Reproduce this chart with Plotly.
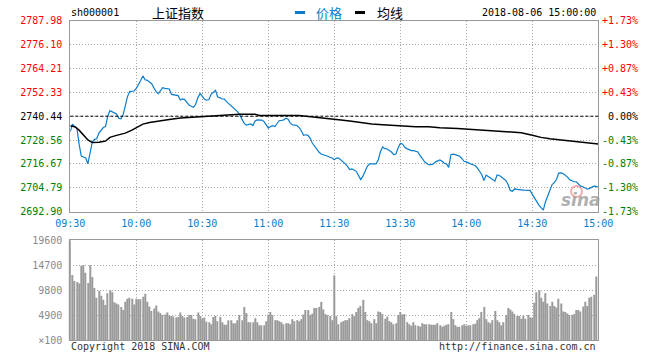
import plotly.graph_objects as go
import pandas as pd

# ---------------- data ----------------
prev_close = 2740.44
price_ticks = [2787.98, 2776.10, 2764.21, 2752.33, 2740.44, 2728.56, 2716.67, 2704.79, 2692.90]
pct_labels = ["+1.73%", "+1.30%", "+0.87%", "+0.43%", "0.00%", "-0.43%", "-0.87%", "-1.30%", "-1.73%"]
vol_ticks = [0, 4900, 9800, 14700, 19600]
vol_tick_labels = ["\u00d7100", "4900", "9800", "14700", "19600"]
time_ticks = ["09:30", "10:00", "10:30", "11:00", "11:30", "13:30", "14:00", "14:30", "15:00"]

am = pd.date_range("2018-08-06 09:30", "2018-08-06 11:30", freq="min").strftime("%H:%M").tolist()
pm = pd.date_range("2018-08-06 13:01", "2018-08-06 15:00", freq="min").strftime("%H:%M").tolist()
times = am + pm

price = [
    2732.8, 2736.5, 2735.3, 2734.5, 2726.5, 2720.6, 2720.1, 2719.6, 2716.8, 2723.3,
    2727.6, 2728.9, 2729.2, 2732.0, 2733.7, 2734.8, 2735.3, 2740.3, 2743.2, 2742.7,
    2742.4, 2741.6, 2739.4, 2739.1, 2741.1, 2745.2, 2750.2, 2752.7, 2753.0, 2753.0,
    2754.3, 2756.0, 2758.2, 2760.5, 2758.6, 2758.3, 2757.3, 2756.6, 2754.6, 2752.7,
    2751.7, 2753.0, 2754.6, 2754.3, 2754.0, 2754.0, 2751.3, 2751.0, 2751.0, 2750.7,
    2748.5, 2749.0, 2748.7, 2747.4, 2746.0, 2745.4, 2744.9, 2746.4, 2749.7, 2751.8,
    2750.5, 2748.9, 2748.4, 2748.7, 2751.3, 2752.3, 2753.3, 2750.0, 2749.7, 2749.0,
    2749.0, 2747.7, 2746.7, 2745.7, 2744.7, 2744.1, 2742.7, 2741.1, 2738.6, 2737.0,
    2736.0, 2736.5, 2736.6, 2735.8, 2738.1, 2738.6, 2738.6, 2738.5, 2737.8, 2735.8,
    2734.5, 2735.3, 2735.7, 2735.3, 2737.0, 2738.3, 2738.3, 2738.6, 2739.4, 2738.9,
    2737.0, 2736.1, 2736.0, 2735.8, 2734.8, 2733.2, 2730.9, 2731.2, 2730.9, 2729.5,
    2727.1, 2725.4, 2724.3, 2722.6, 2721.6, 2721.3, 2720.8, 2720.5, 2720.0, 2719.6,
    2718.8, 2719.6, 2719.6, 2718.7, 2717.5, 2716.7, 2715.5, 2713.9, 2714.2, 2713.7,
    2713.0, 2710.9, 2708.9, 2710.6, 2713.0, 2715.5, 2716.7, 2716.7, 2716.7, 2716.7,
    2718.8, 2722.9, 2725.1, 2724.3, 2724.1, 2723.3, 2722.6, 2721.3, 2721.6, 2724.6,
    2726.9, 2726.6, 2725.0, 2724.3, 2723.8, 2723.3, 2723.3, 2722.9, 2722.6, 2720.8,
    2719.2, 2717.8, 2716.9, 2716.3, 2716.3, 2716.7, 2717.7, 2718.2, 2718.7, 2718.0,
    2717.0, 2716.7, 2715.0, 2721.3, 2721.6, 2721.3, 2721.0, 2720.5, 2719.3, 2718.0,
    2717.7, 2717.0, 2716.7, 2716.3, 2715.9, 2714.7, 2713.0, 2711.4, 2708.4, 2711.1,
    2710.4, 2709.7, 2709.2, 2708.1, 2711.2, 2710.9, 2710.2, 2709.4, 2708.4, 2706.4,
    2703.5, 2703.1, 2704.3, 2704.0, 2704.0, 2703.8, 2703.6, 2703.5, 2703.5, 2703.5,
    2701.5, 2699.5, 2697.9, 2696.2, 2694.9, 2693.7, 2697.9, 2700.7, 2703.5, 2706.4,
    2707.4, 2708.9, 2712.1, 2712.2, 2711.9, 2711.2, 2710.1, 2708.8, 2708.1, 2707.8,
    2707.8, 2706.8, 2705.6, 2705.3, 2704.8, 2704.1, 2704.5, 2705.1, 2705.6, 2705.5,
    2705.1,
]

avg_time = ["09:30", "09:32", "09:34", "09:36", "09:38", "09:40", "09:43", "09:46", "09:48", "09:51",
            "09:55", "09:58", "10:01", "10:03", "10:06", "10:10", "10:15", "10:20", "10:25", "10:30",
            "10:35", "10:40", "10:47", "10:54", "10:56", "11:14", "11:18", "11:22", "11:26", "11:29",
            "13:03", "13:07", "13:10", "13:13", "13:17", "13:22", "13:30", "13:37", "13:43", "13:48",
            "13:56", "14:04", "14:11", "14:18", "14:25", "14:30", "14:34", "14:38", "14:42", "14:48",
            "14:53", "14:58", "15:00"]
avg_price = [2735.7, 2735.2, 2733.5, 2730.9, 2728.6, 2727.3, 2727.5, 2728.1, 2729.9, 2730.9,
             2732.0, 2733.5, 2735.2, 2736.5, 2737.3, 2738.1, 2738.8, 2739.6, 2739.9, 2740.3,
             2740.8, 2741.1, 2741.4, 2741.4, 2740.8, 2740.8, 2740.4, 2739.9, 2739.6, 2739.1,
             2738.6, 2738.1, 2737.6, 2737.1, 2736.6, 2736.2, 2735.6, 2735.2, 2735.2, 2734.7,
             2734.3, 2733.8, 2733.3, 2732.9, 2732.2, 2731.0, 2729.9, 2729.2, 2728.7, 2728.1,
             2727.6, 2726.9, 2726.6]

volume = [
    12800, 11600, 11400, 11100, 14600, 14700, 13200, 11200, 14700, 12400,
    10200, 8300, 9700, 8700, 7900, 6900, 9200, 9800, 9400, 7400,
    7200, 7000, 6500, 5900, 7500, 8100, 8300, 8100, 7000, 8100,
    8000, 8000, 8500, 9100, 7500, 6600, 5700, 6200, 6800, 5600,
    5300, 4900, 5000, 5400, 4800, 4700, 4600, 4400, 4500, 5400,
    4700, 4400, 4500, 4900, 4900, 4200, 4100, 5400, 4700, 4200,
    4400, 3600, 3500, 3100, 4500, 4700, 3700, 4500, 3500, 3000,
    3000, 3900, 3900, 3300, 3300, 3900, 4900, 3900, 6500, 5300,
    3500, 3500, 3500, 4300, 3500, 2900, 2900, 2900, 3700, 5000,
    5500, 4900, 3900, 3900, 3700, 3500, 3100, 3300, 3300, 3100,
    4100, 3700, 3900, 3700, 4100, 5000, 5900, 5900, 4900, 5200,
    6300, 6300, 6500, 7500, 6000, 5100, 4900, 4700, 3900, 12700,
    4700, 3100, 3500, 3700, 3900, 3900, 4300, 5100, 4700, 5500,
    6300, 6700, 7900, 5500, 3900, 3700, 3300, 4100, 3300, 5600,
    5500, 5100, 4200, 4600, 3700, 3500, 3100, 3300, 4900, 5500,
    5000, 5100, 3500, 3100, 2800, 3500, 2900, 2800, 2600, 3300,
    3100, 3100, 3100, 3000, 3000, 3000, 3300, 2900, 2600, 2800,
    3000, 3100, 5500, 4100, 2900, 2600, 2600, 2900, 3100, 2800,
    2900, 2900, 3100, 3200, 3900, 4300, 5500, 6500, 4100, 3500,
    3300, 3900, 5700, 3900, 3500, 2900, 3500, 4900, 6300, 6000,
    5600, 5100, 4700, 4700, 4200, 4700, 4200, 4900, 4400, 4400,
    7300, 9400, 9800, 8300, 7500, 9200, 7200, 6700, 7500, 6700,
    6400, 8100, 7200, 5600, 5500, 5200, 4900, 4900, 5100, 5900,
    5900, 5600, 6600, 7500, 6700, 8300, 8500, 8900, 12500,
]
vol_time = times[1:1 + len(volume)]

# ---------------- styling ----------------
W, H = 660, 360
X0, X1 = 70.3, 598.3
P_TOP, P_BOT = 20.7, 211.7
V_TOP, V_BOT = 240.3, 340.0
MONO = "DejaVu Sans Mono"
CJK = "Noto Sans CJK SC"
BLUE = "#0a7ccc"
GRID = "#a8a8a8"
FRAME = "#999999"
RED, GREEN = "#ff0000", "#008000"


def px(x):
    return x / W


def py(y):
    return 1 - y / H


def colour(v):
    if abs(v - prev_close) < 0.005:
        return "#000000"
    return RED if v > prev_close else GREEN


left_text = ['<span style="color:%s">%.2f</span>' % (colour(v), v) for v in price_ticks]

fig = go.Figure()
fig.add_trace(go.Scatter(x=times, y=price, mode="lines", line=dict(color=BLUE, width=1.2),
                         xaxis="x", yaxis="y", hoverinfo="skip"))
fig.add_trace(go.Scatter(x=avg_time, y=avg_price, mode="lines", line=dict(color="#000000", width=1.5),
                         xaxis="x", yaxis="y", hoverinfo="skip"))
fig.add_trace(go.Bar(x=vol_time, y=volume, marker=dict(color="#9a9a9a", line=dict(width=0)),
                     width=0.42, xaxis="x2", yaxis="y3", hoverinfo="skip"))

xcommon = dict(type="category", categoryorder="array", categoryarray=times, range=[0, len(times) - 1],
               domain=[px(X0), px(X1)], showgrid=True, gridcolor=GRID, griddash="1px,2px", gridwidth=1,
               showline=True, linecolor=FRAME, linewidth=1, mirror=True, ticks="",
               tickvals=time_ticks, ticktext=time_ticks, zeroline=False, automargin=False)

fig.update_layout(
    width=W, height=H, margin=dict(l=0, r=0, t=0, b=0, autoexpand=False),
    paper_bgcolor="white", plot_bgcolor="white", showlegend=False,
    font=dict(family=MONO, size=10, color="#000000"),
    xaxis=dict(**xcommon, anchor="y", showticklabels=True,
               tickfont=dict(family=MONO, size=10, color=BLUE), ticklabelstandoff=2),
    yaxis=dict(domain=[py(P_BOT), py(P_TOP)], range=[price_ticks[-1], price_ticks[0]],
               tickvals=price_ticks, ticktext=left_text, showgrid=True, gridcolor=GRID,
               griddash="1px,2px", showline=True, linecolor=FRAME, mirror=True, ticks="",
               zeroline=False, tickfont=dict(family=MONO, size=10), ticklabelstandoff=5, anchor="x",
               automargin=False),
    xaxis2=dict(**xcommon, anchor="y3", showticklabels=False),
    yaxis3=dict(domain=[py(V_BOT), py(V_TOP)], range=[0, 19600], tickvals=vol_ticks,
                ticktext=vol_tick_labels, showgrid=True, gridcolor=GRID, griddash="1px,2px",
                showline=True, linecolor=FRAME, mirror=True, ticks="", zeroline=False,
                tickfont=dict(family=MONO, size=10, color="#8a8a8a"), ticklabelstandoff=5, anchor="x2",
                automargin=False),
)

# right-hand percentage labels (right-aligned), placed on the price scale
for v, t in zip(price_ticks, pct_labels):
    fig.add_annotation(text=t, x=px(640), y=v, xref="paper", yref="y", xanchor="right", yanchor="middle",
                       showarrow=False, font=dict(family=MONO, size=10, color=colour(v)))

# previous-close dashed line
fig.add_shape(type="line", xref="x domain", yref="y", x0=0, x1=1, y0=prev_close, y1=prev_close,
              line=dict(color="#000000", width=1, dash="3px,2px"))
# thicker left edge of the volume panel
fig.add_shape(type="line", xref="paper", yref="paper", x0=px(X0 - 0.5), x1=px(X0 - 0.5),
              y0=py(V_BOT), y1=py(V_TOP), line=dict(color=FRAME, width=2))

# header texts & legend
fig.add_annotation(text="sh000001", x=px(69), y=py(13), xref="paper", yref="paper",
                   xanchor="left", yanchor="middle", showarrow=False,
                   font=dict(family=MONO, size=10, color="#000000"))
fig.add_annotation(text="上证指数", x=px(150), y=py(13), xref="paper", yref="paper",
                   xanchor="left", yanchor="middle", showarrow=False,
                   font=dict(family=CJK, size=13, color="#000000"))
fig.add_shape(type="line", xref="paper", yref="paper", x0=px(295), x1=px(305), y0=py(12.5), y1=py(12.5),
              line=dict(color=BLUE, width=3))
fig.add_annotation(text="价格", x=px(314), y=py(13), xref="paper", yref="paper",
                   xanchor="left", yanchor="middle", showarrow=False,
                   font=dict(family=CJK, size=13, color=BLUE))
fig.add_shape(type="line", xref="paper", yref="paper", x0=px(355), x1=px(365), y0=py(12.5), y1=py(12.5),
              line=dict(color="#000000", width=3))
fig.add_annotation(text="均线", x=px(375), y=py(13), xref="paper", yref="paper",
                   xanchor="left", yanchor="middle", showarrow=False,
                   font=dict(family=CJK, size=13, color="#000000"))
fig.add_annotation(text="2018-08-06 15:00:00", x=px(598), y=py(13), xref="paper", yref="paper",
                   xanchor="right", yanchor="middle", showarrow=False,
                   font=dict(family=MONO, size=10, color="#000000"))

# footer
fig.add_annotation(text="Copyright 2018 SINA.COM", x=px(69), y=py(346), xref="paper", yref="paper",
                   xanchor="left", yanchor="middle", showarrow=False,
                   font=dict(family=MONO, size=10, color="#333333"))
fig.add_annotation(text="http://finance.sina.com.cn", x=px(598), y=py(346), xref="paper", yref="paper",
                   xanchor="right", yanchor="middle", showarrow=False,
                   font=dict(family=MONO, size=10, color="#333333"))

# sina watermark
fig.add_shape(type="circle", xref="paper", yref="paper", x0=px(571), x1=px(582), y0=py(197), y1=py(186),
              line=dict(color="rgba(235,110,110,0.55)", width=2))
fig.add_annotation(text="sina", x=px(581), y=py(200), xref="paper", yref="paper",
                   xanchor="center", yanchor="middle", showarrow=False,
                   font=dict(family="DejaVu Sans", size=17, color="rgba(150,150,150,0.75)",
                             style="italic", weight="bold"))

fig.write_html("out.html", config={"displayModeBar": False},
               post_script="document.body.style.margin='0';document.body.style.padding='0';")
